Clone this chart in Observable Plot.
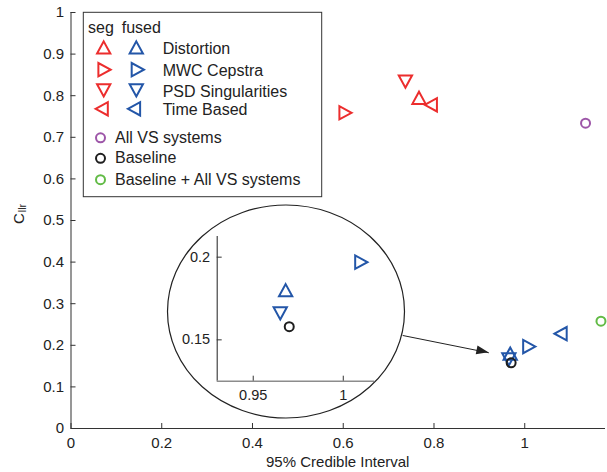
<!DOCTYPE html>
<html><head><meta charset="utf-8">
<script src="https://cdn.jsdelivr.net/npm/d3@7"></script>
<script src="https://cdn.jsdelivr.net/npm/@observablehq/plot@0.6"></script>
<style>
body{margin:0;background:#fff}
#chart{position:relative;width:607px;height:472px}
#chart > svg{position:absolute}
</style></head><body><div id="chart"></div>
<script>
// ---- data ----
const methods = ["Distortion", "MWC Cepstra", "PSD Singularities", "Time Based"];
const segX = [0.767, 0.605, 0.737, 0.793];
const segY = [0.795, 0.759, 0.834, 0.778];
const fusedX = [0.968, 1.010, 0.965, 1.079];
const fusedY = [0.180, 0.197, 0.166, 0.228];
const systems = ["All VS systems", "Baseline", "Baseline + All VS systems"];
const sysX = [1.134, 0.970, 1.168];
const sysY = [0.734, 0.158, 0.258];
const xTicks = [0, 0.2, 0.4, 0.6, 0.8, 1];
const yTicks = [0, 0.1, 0.2, 0.3, 0.4, 0.5, 0.6, 0.7, 0.8, 0.9, 1];
const insetXTicks = [0.95, 1];
const insetYTicks = [0.15, 0.2];
const arrowFrom = [0.731, 0.2236];
const arrowTo = [0.921, 0.182];
const xLabel = "95% Credible Interval";
const yLabelMain = "C", yLabelSub = "llr";
const headers = ["seg", "fused"];

// ---- styles ----
const RED = "#ec2d2d", BLUE = "#2356a8", PURPLE = "#9d56a8", GREEN = "#62bb46", BLACK = "#1e1e1e";
const sysColors = [PURPLE, BLACK, GREEN];
const kindColors = {seg: RED, fused: BLUE};
const FONT = "'Liberation Sans', Arial, Helvetica, sans-serif";

function tri(dir) {
  return {draw(ctx, size) {
    const s = Math.sqrt(size), w = 0.75 * s, h = 0.69 * s;
    if (dir === 0) { ctx.moveTo(0, -h); ctx.lineTo(w, h); ctx.lineTo(-w, h); }
    else if (dir === 1) { ctx.moveTo(h, 0); ctx.lineTo(-h, -w); ctx.lineTo(-h, w); }
    else if (dir === 2) { ctx.moveTo(0, h); ctx.lineTo(w, -h); ctx.lineTo(-w, -h); }
    else { ctx.moveTo(-h, 0); ctx.lineTo(h, -w); ctx.lineTo(h, w); }
    ctx.closePath();
  }};
}
const SYMS = [tri(0), tri(1), tri(2), tri(3)];
const R = 5, CR = 4.5;

const rows = methods.flatMap((m, i) => [
  {method: m, kind: "seg", i, x: segX[i], y: segY[i]},
  {method: m, kind: "fused", i, x: fusedX[i], y: fusedY[i]}
]);
const sysRows = systems.map((s, i) => ({system: s, i, x: sysX[i], y: sysY[i]}));

function pointMarks(clip) {
  const marks = [];
  for (let i = 0; i < methods.length; i++) {
    for (const kind of ["seg", "fused"]) {
      marks.push(Plot.dot(rows.filter(d => d.i === i && d.kind === kind), {
        x: "x", y: "y", symbol: SYMS[i], r: R, stroke: kindColors[kind], strokeWidth: 2, fill: "none", clip
      }));
    }
  }
  sysRows.forEach((d, i) => marks.push(Plot.dot([d], {x: "x", y: "y", r: CR, stroke: sysColors[i], strokeWidth: 2, fill: "none", clip})));
  return marks;
}

const W = 607, H = 472, ML = 70.5, MR = 2, MT = 12, MB = 44;
const FW = W - ML - MR, FH = H - MT - MB;

const legend = () => {
  const g = d3.create("svg:g").attr("font-family", FONT).attr("font-size", 16).attr("fill", "#222")
    .attr("text-anchor", "start");
  g.append("rect").attr("x", 83.3).attr("y", 12.3).attr("width", 238.4).attr("height", 184.4)
    .attr("fill", "white").attr("stroke", "#333").attr("stroke-width", 1);
  g.append("text").attr("x", 88).attr("y", 33.3).text(headers[0]);
  g.append("text").attr("x", 121.7).attr("y", 33.3).text(headers[1]);
  const symY = [47.5, 69.7, 90.3, 108.8];
  const segCx = [103.7, 104.5, 103.7, 101.7];
  const fusCx = [136.3, 137.8, 136.3, 134];
  const textY = [54, 76.2, 96.7, 115];
  methods.forEach((m, i) => {
    const p = d3.symbol(SYMS[i], Math.PI * R * R)();
    g.append("path").attr("d", p).attr("transform", `translate(${segCx[i]},${symY[i]})`)
      .attr("fill", "none").attr("stroke", RED).attr("stroke-width", 2);
    g.append("path").attr("d", p).attr("transform", `translate(${fusCx[i]},${symY[i]})`)
      .attr("fill", "none").attr("stroke", BLUE).attr("stroke-width", 2);
    g.append("text").attr("x", 162.7).attr("y", textY[i]).text(m);
  });
  const cy = [137.8, 158.3, 179.7], ty = [142.9, 163.4, 184.6];
  systems.forEach((s, i) => {
    g.append("circle").attr("cx", 100.5).attr("cy", cy[i]).attr("r", CR)
      .attr("fill", "none").attr("stroke", sysColors[i]).attr("stroke-width", 2);
    g.append("text").attr("x", 115).attr("y", ty[i]).text(s);
  });
  return g.node();
};

const labels = () => {
  const g = d3.create("svg:g").attr("font-family", FONT).attr("fill", "#222");
  g.append("text").attr("x", ML + FW / 2).attr("y", 467).attr("text-anchor", "middle").attr("font-size", 15).text(xLabel);
  const t = g.append("text").attr("transform", "translate(23.5,214) rotate(-90)").attr("text-anchor", "middle").attr("font-size", 15);
  t.append("tspan").text(yLabelMain);
  t.append("tspan").attr("font-size", 10.5).attr("dy", 2.5).attr("dx", 1).text(yLabelSub);
  return g.node();
};

const arrowHead = (index, scales) => {
  const x1 = scales.x(arrowFrom[0]), y1 = scales.y(arrowFrom[1]);
  const x2 = scales.x(arrowTo[0]), y2 = scales.y(arrowTo[1]);
  const a = Math.atan2(y2 - y1, x2 - x1) * 180 / Math.PI;
  const g = d3.create("svg:g");
  g.append("path").attr("d", "M0,0L-12,-4.5L-12,4.5Z").attr("fill", "#222")
    .attr("transform", `translate(${x2},${y2}) rotate(${a})`);
  return g.node();
};

const main = Plot.plot({
  width: W, height: H, marginLeft: ML, marginRight: MR, marginTop: MT, marginBottom: MB,
  x: {domain: [0, 1.178]}, y: {domain: [0, 1]},
  style: {fontFamily: FONT, fontSize: "15px", color: "#222", background: "white", overflow: "visible"},
  marks: [
    Plot.ruleY([0], {stroke: "#333", strokeWidth: 1.2}),
    Plot.ruleX([0], {stroke: "#8c8c8c", strokeWidth: 1.8}),
    Plot.tickX(xTicks, {x: d => d, stroke: "#333", insetTop: FH - 5}),
    Plot.tickY(yTicks, {y: d => d, stroke: "#333", insetRight: FW - 5}),
    Plot.axisX({ticks: xTicks, tickSize: 0, tickPadding: 9, tickFormat: d => String(d), label: null}),
    Plot.axisY({ticks: yTicks, tickSize: 0, tickPadding: 7, tickFormat: d => String(d), label: null}),
    Plot.link([{x1: arrowFrom[0], y1: arrowFrom[1], x2: arrowTo[0], y2: arrowTo[1]}],
      {x1: "x1", y1: "y1", x2: "x2", y2: "y2", stroke: "#222", strokeWidth: 1}),
    arrowHead,
    ...pointMarks(false),
    legend,
    labels
  ]
});

const IW = 250, IH = 225, IML = 56.7, IMR = 35.7, IMT = 36, IMB = 44.3;
const IFW = IW - IML - IMR, IFH = IH - IMT - IMB;
const ellipse = () => {
  const g = d3.create("svg:g");
  g.append("ellipse").attr("cx", 126).attr("cy", 111.5).attr("rx", 118.5).attr("ry", 106.5)
    .attr("fill", "white").attr("stroke", "#222").attr("stroke-width", 1.2);
  return g.node();
};
const inset = Plot.plot({
  width: IW, height: IH, marginLeft: IML, marginRight: IMR, marginTop: IMT, marginBottom: IMB,
  x: {domain: [0.93, 1.0175]}, y: {domain: [0.125, 0.2125]},
  style: {fontFamily: FONT, fontSize: "14.5px", color: "#222", background: "transparent", overflow: "visible"},
  marks: [
    ellipse,
    Plot.ruleX([0.93], {stroke: "#333", strokeWidth: 1.1}),
    Plot.ruleY([0.125], {stroke: "#8c8c8c", strokeWidth: 1.6}),
    Plot.tickX(insetXTicks, {x: d => d, stroke: "#333", insetTop: IFH - 5}),
    Plot.tickY(insetYTicks, {y: d => d, stroke: "#333", insetRight: IFW - 5}),
    Plot.axisX({ticks: insetXTicks, tickSize: 0, tickPadding: 9, tickFormat: d => String(d), label: null}),
    Plot.axisY({ticks: insetYTicks, tickSize: 0, tickPadding: 7, tickFormat: d => String(d), label: null}),
    ...pointMarks(true)
  ]
});
inset.style.left = "160px";
inset.style.top = "200px";

const el = document.getElementById("chart");
el.appendChild(main);
el.appendChild(inset);
</script></body></html>
